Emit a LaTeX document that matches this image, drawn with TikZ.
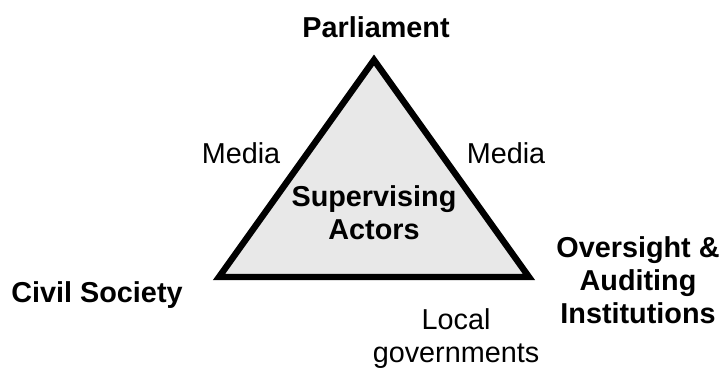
\documentclass[tikz,border=0pt]{standalone}
\usepackage{fontspec}
\setmainfont{Liberation Sans}
\begin{document}
\begin{tikzpicture}[x=0.5pt,y=-0.5pt,
  lbl/.style={anchor=base,inner sep=0pt,align=center,font=\fontsize{14.4}{16.3}\selectfont},
  blbl/.style={lbl,font=\fontsize{14.4}{16.3}\selectfont\bfseries},
  tri/.style={draw=black,fill=black!9,line width=3.2pt,line join=miter}]
\useasboundingbox (0,0) rectangle (725,372);
% the triangle of supervising actors
\coordinate (top) at (374,60);
\coordinate (bl) at (219,277);
\coordinate (br) at (529,277);
\draw[tri] (top) -- (bl) -- (br) -- cycle;
% labels (multi-line nodes sit on the baseline of their last line)
\node[blbl] (parl) at (376,37) {Parliament};
\node[lbl] (medL) at (241,163) {Media};
\node[lbl] (medR) at (506,163) {Media};
\node[blbl] (sup) at (374,239) {Supervising\\Actors};
\node[blbl] (civ) at (97,302) {Civil Society};
\node[blbl] (ovs) at (638,323) {Oversight \&\\Auditing\\Institutions};
\node[lbl] (loc) at (456,362) {Local\\governments};
\end{tikzpicture}
\end{document}
